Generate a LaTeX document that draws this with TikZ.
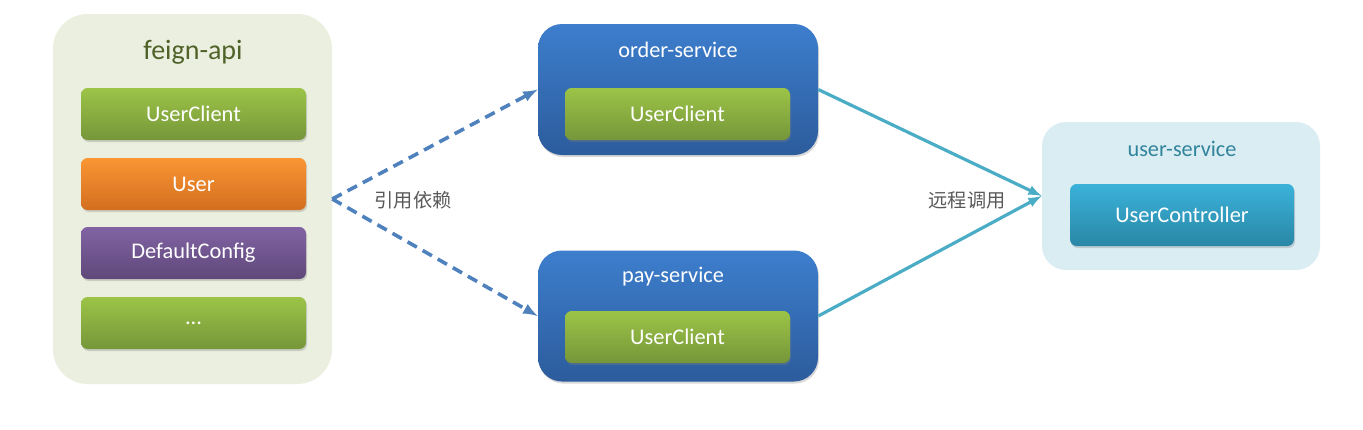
\documentclass[tikz,border=0pt]{standalone}
\usepackage{fontspec}
\setmainfont{Carlito}
\newfontfamily\cjk{Noto Sans CJK SC}
\usetikzlibrary{shadows}

\definecolor{apibg}{HTML}{EBEFDF}
\definecolor{apitext}{HTML}{4F6228}
\definecolor{greentop}{HTML}{9CC447}
\definecolor{greenbot}{HTML}{76963A}
\definecolor{orangetop}{HTML}{FA9633}
\definecolor{orangebot}{HTML}{D36E20}
\definecolor{purpletop}{HTML}{8163A4}
\definecolor{purplebot}{HTML}{5F4879}
\definecolor{bluetop}{HTML}{3D7ECD}
\definecolor{bluebot}{HTML}{2C5C9C}
\definecolor{svcbg}{HTML}{DAEDF3}
\definecolor{svctext}{HTML}{31849B}
\definecolor{cyantop}{HTML}{3AB2DA}
\definecolor{cyanbot}{HTML}{2A87A6}
\definecolor{deplink}{HTML}{4F81BD}
\definecolor{calllink}{HTML}{4BACC6}
\definecolor{labelgray}{HTML}{595959}

\tikzset{
  holder/.style={rounded corners=26pt, inner sep=0pt},
  classbox/.style={rounded corners=5pt, inner sep=0pt, text=white,
    minimum width=168.75pt, minimum height=39pt, font=\fontsize{16.8}{18}\selectfont,
    drop shadow={opacity=0.3, shadow xshift=0.8pt, shadow yshift=-1.5pt}},
  greenbox/.style={classbox, top color=greentop, bottom color=greenbot},
  orangebox/.style={classbox, top color=orangetop, bottom color=orangebot},
  purplebox/.style={classbox, top color=purpletop, bottom color=purplebot},
  svcbox/.style={rounded corners=18pt, inner sep=0pt,
    minimum width=210pt, minimum height=98.25pt,
    top color=bluetop, bottom color=bluebot,
    drop shadow={opacity=0.3, shadow xshift=0.8pt, shadow yshift=-1.5pt}},
  title/.style={font=\fontsize{16.7}{18}\selectfont},
  linklabel/.style={font=\cjk\fontsize{14.4}{16}\selectfont, text=labelgray},
  deparrow/.style={draw=deplink, line width=2.7pt, dash pattern=on 8pt off 5pt, -latex},
  callarrow/.style={draw=calllink, line width=2.4pt, -latex}
}

\begin{document}
\begin{tikzpicture}[x=0.75pt, y=-0.75pt]
  \useasboundingbox (0,0) rectangle (1363,429);

  % feign-api module
  \node[holder, fill=apibg, minimum width=209.25pt, minimum height=277.5pt] (feign) at (192.5,199) {};
  \node[font=\fontsize{21}{24}\selectfont, text=apitext] (feigntitle) at (193,52) {feign-api};
  \node[greenbox] (apiclient) at (193.5,114) {UserClient};
  \node[orangebox] (apiuser) at (193.5,184) {User};
  \node[purplebox] (apiconfig) at (193.5,253) {DefaultConfig};
  \node[greenbox] (apimore) at (193.5,323) {...};

  % consumers
  \node[svcbox] (order) at (678,89.5) {};
  \node[title, text=white] (ordertitle) at (678,50) {order-service};
  \node[greenbox] (orderclient) at (677.5,114) {UserClient};

  \node[svcbox] (pay) at (678,316) {};
  \node[title, text=white] (paytitle) at (673,277) {pay-service};
  \node[greenbox] (payclient) at (677.5,337) {UserClient};

  % provider
  \node[holder, rounded corners=18pt, fill=svcbg, minimum width=208.5pt, minimum height=111pt] (user) at (1181,196) {};
  \node[title, text=svctext] (usertitle) at (1182,149) {user-service};
  \node[classbox, top color=cyantop, bottom color=cyanbot, minimum width=168pt, minimum height=46.5pt] (userctrl) at (1182,215) {UserController};

  % links
  \draw[deparrow] (feign.east) -- (order.west);
  \draw[deparrow] (feign.east) -- (pay.west);
  \node[linklabel] (deplabel) at (413,200) {引用依赖};

  \draw[callarrow] (order.east) -- (user.west);
  \draw[callarrow] (pay.east) -- (user.west);
  \node[linklabel] (calllabel) at (967,200) {远程调用};
\end{tikzpicture}
\end{document}
